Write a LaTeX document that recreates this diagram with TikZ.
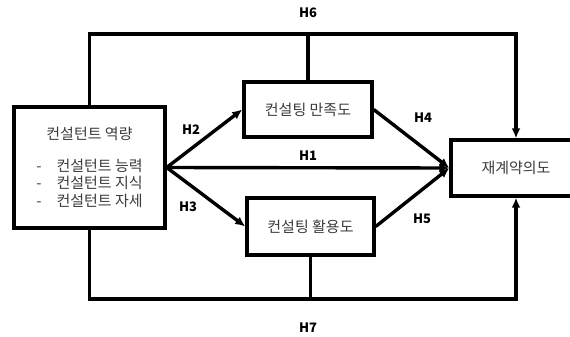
\documentclass[tikz,border=0pt]{standalone}
\usepackage{fontspec}
\setmainfont{Noto Sans CJK KR}
\usetikzlibrary{arrows.meta}
\definecolor{txtgray}{RGB}{60,60,60}
\tikzset{
  box/.style={draw, line width=3.4pt, fill=white, text=txtgray,
    font=\fontsize{15}{17.5}\selectfont, inner sep=0pt},
  link/.style={line width=3.4pt, -{Latex[length=10pt,width=9pt]}},
  plain/.style={line width=3.4pt},
  hyp/.style={font=\bfseries\fontsize{13}{13}\selectfont}
}
\begin{document}
\begin{tikzpicture}[x=1pt,y=-1pt]
        \useasboundingbox (0,0) rectangle (570,337);
        \node[box, minimum width=151pt, minimum height=121pt, align=center] (cap) at (89.5,167.5)
            {컨설턴트 역량\\[14pt] -\quad 컨설턴트 능력\\ -\quad 컨설턴트 지식\\ -\quad 컨설턴트 자세};
        \node[box, minimum width=128pt, minimum height=55pt] (sat) at (308,109.5) {컨설팅 만족도};
        \node[box, minimum width=127pt, minimum height=57pt] (use) at (310.5,226.5) {컨설팅 활용도};
        \node[box, minimum width=130pt, minimum height=56pt] (renew) at (516,168) {재계약의도};
        \coordinate (top6) at (308,34);
        \coordinate (bot7) at (310.5,299);
        % direct and mediated paths
        \draw[link] (cap.east) -- (renew.west);
        \draw[link] (cap.east) -- (sat.west);
        \draw[link] (cap.east) -- (use.west);
        \draw[link] (sat.east) -- (renew.west);
        \draw[link] (use.east) -- (renew.west);
        % moderation paths
        \draw[link] (cap.north) |- (top6) -| (renew.north);
        \draw[plain] (sat.north) -- (top6);
        \draw[link] (cap.south) |- (bot7) -| (renew.south);
        \draw[plain] (use.south) -- (bot7);
        % labels
        \node[hyp] (h1) at (308,156) {H1};
        \node[hyp] (h2) at (191,130) {H2};
        \node[hyp] (h3) at (188,207) {H3};
        \node[hyp] (h4) at (423,118) {H4};
        \node[hyp] (h5) at (422,219) {H5};
        \node[hyp] (h6) at (308,13) {H6};
        \node[hyp] (h7) at (308,328) {H7};
    \end{tikzpicture}
\end{document}
